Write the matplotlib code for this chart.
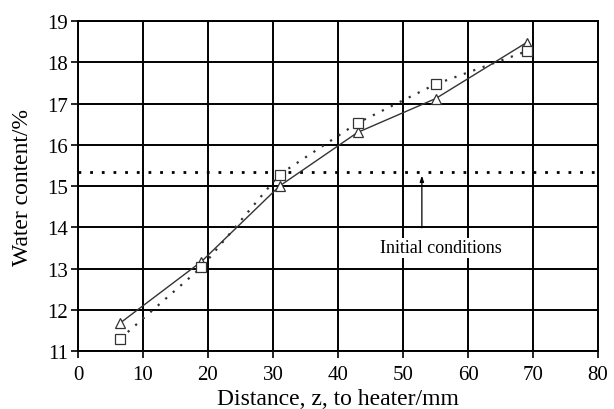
import matplotlib
matplotlib.use("Agg")
from matplotlib import pyplot as plt

# datos
dist_tri = [6.5, 19, 31, 43, 55, 69]
water_tri = [11.68, 13.17, 15.0, 16.3, 17.12, 18.48]
dist_sq = [6.5, 19, 31, 43, 55, 69]
water_sq = [11.3, 13.03, 15.28, 16.53, 17.47, 18.27]
initial_water = 15.35
x_ticks = [0, 10, 20, 30, 40, 50, 60, 70, 80]
y_ticks = [11, 12, 13, 14, 15, 16, 17, 18, 19]

plt.rcParams['font.family'] = ['Liberation Serif', 'DejaVu Serif']

fig = plt.figure(figsize=(6.14, 4.10), dpi=100)
ax = fig.add_axes([0.127, 0.1415, 0.847, 0.8045])

# grade
for xv in x_ticks:
    ax.axvline(xv, color='black', lw=1.4, zorder=1)
for yv in y_ticks:
    ax.axhline(yv, color='black', lw=1.4, zorder=1)

# linha da condição inicial
ax.axhline(initial_water, color='black', lw=2.0, ls=(0, (1, 3.2)), zorder=2)

ax.plot(dist_tri, water_tri, color='#333333', lw=1.0, marker='^',
        markersize=7, markerfacecolor='white', markeredgecolor='#333333',
        markeredgewidth=0.9, zorder=3)
ax.plot(dist_sq, water_sq, color='#333333', lw=1.6, ls=(0, (1, 3.5)),
        marker='s', markersize=7, markerfacecolor='white',
        markeredgecolor='#333333', markeredgewidth=0.9, zorder=3)

ax.annotate('', xy=(52.9, initial_water - 0.03), xytext=(52.9, 13.92),
            arrowprops=dict(arrowstyle='-|>,head_length=0.35,head_width=0.12',
                            color='black', lw=0.9), zorder=4)
ax.text(55.8, 13.5, 'Initial conditions', ha='center', va='center',
        fontsize=13, zorder=4,
        bbox=dict(facecolor='white', edgecolor='none', pad=1.0))

ax.set_xlim(0, 80)
ax.set_ylim(11, 19)
ax.set_xticks(x_ticks)
ax.set_yticks(y_ticks)
ax.tick_params(labelsize=15, length=5, width=1.2, direction='out', pad=2)
ax.tick_params(axis='x', pad=5)
for s in ax.spines.values():
    s.set_linewidth(1.4)
ax.set_xlabel('Distance, z, to heater/mm', fontsize=17, labelpad=3)
ax.set_ylabel('Water content/%', fontsize=17, labelpad=10)

fig.savefig('out.png', dpi=100)
